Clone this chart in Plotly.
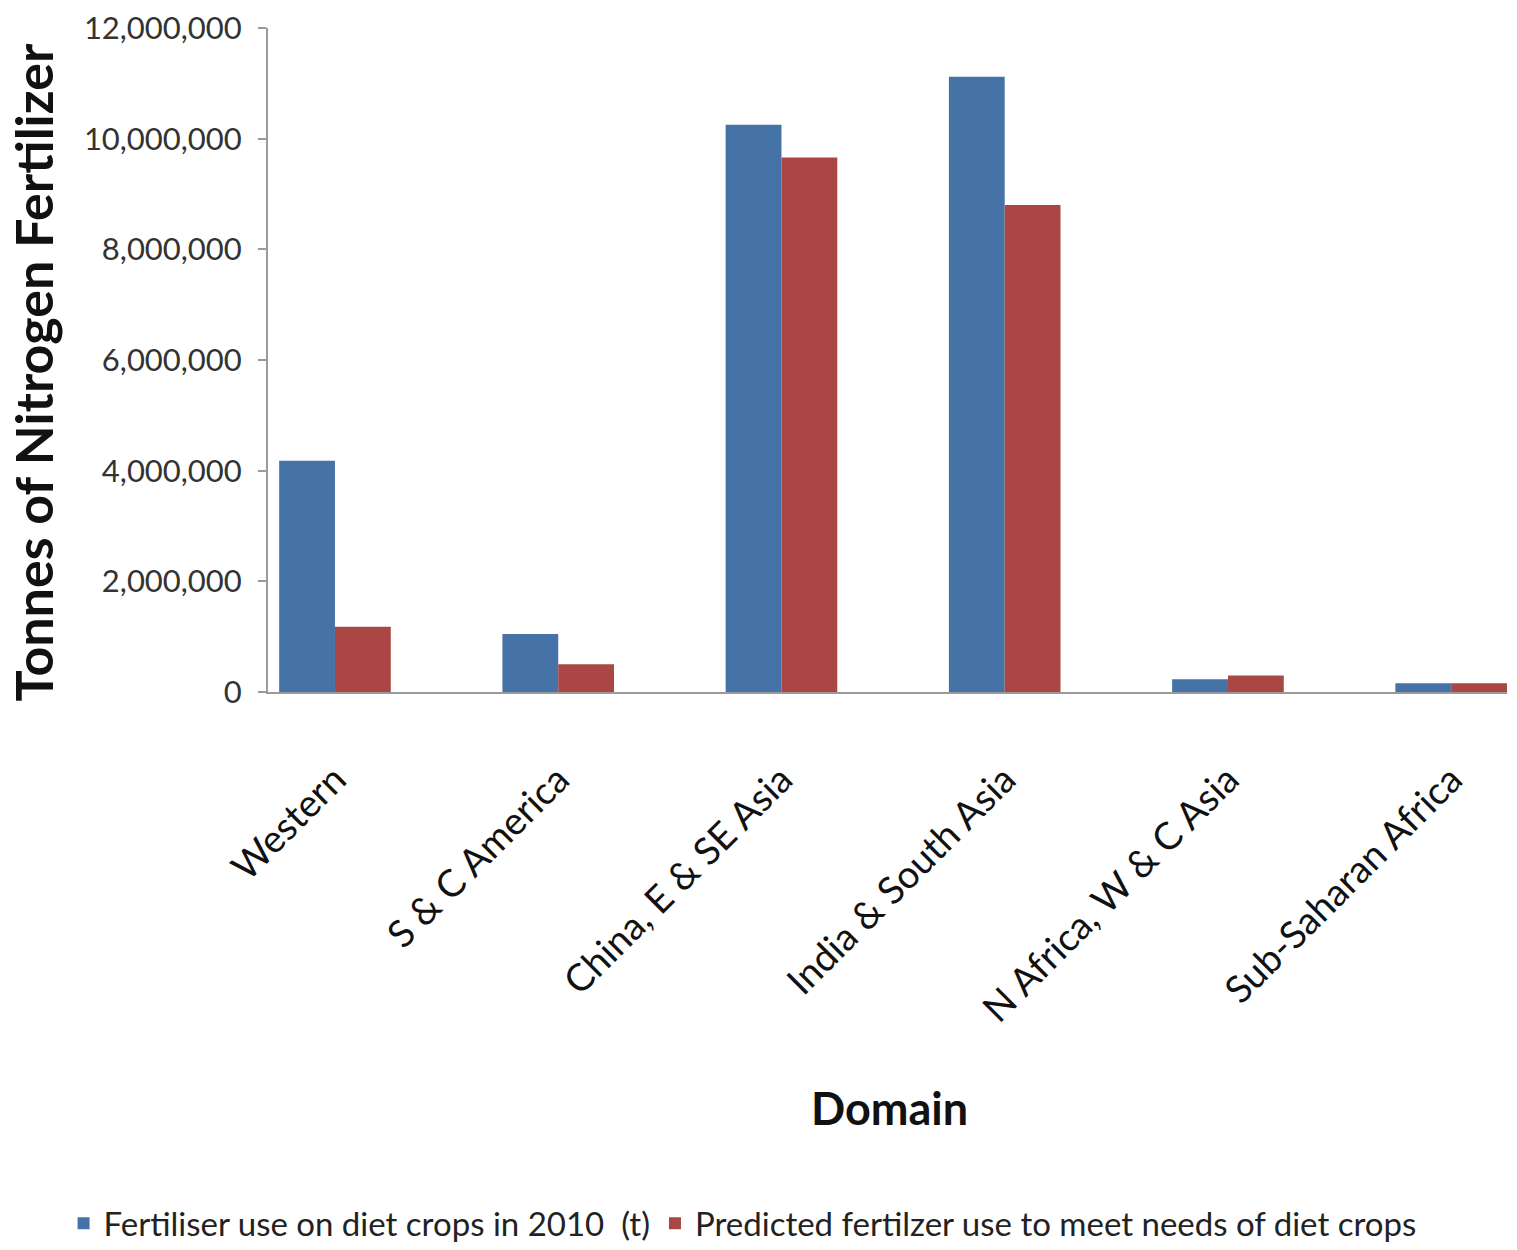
import plotly.graph_objects as go

categories = ["Western", "S & C America", "China, E & SE Asia", "India & South Asia",
              "N Africa, W & C Asia", "Sub-Saharan Africa"]
use_2010 = [4180000, 1050000, 10250000, 11120000, 230000, 160000]
predicted = [1180000, 500000, 9660000, 8800000, 300000, 160000]
series_names = ["Fertiliser use on diet crops in 2010  (t)",
                "Predicted fertilzer use to meet needs of diet crops"]
y_ticks = [0, 2000000, 4000000, 6000000, 8000000, 10000000, 12000000]

FONT = "Lato"
fig = go.Figure()
fig.add_trace(go.Bar(x=list(range(len(categories))), y=use_2010, name=series_names[0],
                     marker=dict(color="#4572A7", line=dict(width=0))))
fig.add_trace(go.Bar(x=list(range(len(categories))), y=predicted, name=series_names[1],
                     marker=dict(color="#AA4643", line=dict(width=0))))

L, R, T, B = 268, 10, 28, 558
fig.update_layout(
    width=1517, height=1250,
    margin=dict(l=L, r=R, t=T, b=B, autoexpand=False),
    paper_bgcolor="white", plot_bgcolor="white",
    barmode="group", bargap=0.5, bargroupgap=0,
    font=dict(family=FONT, color="#222"),
    showlegend=True,
    legend=dict(orientation="h", x=-0.165, xanchor="left", y=-0.80, yanchor="middle",
                font=dict(size=33, color="#222", family=FONT), itemsizing="constant",
                traceorder="normal", itemwidth=30),
    xaxis=dict(
        tickmode="array", tickvals=list(range(len(categories))), ticktext=categories,
        range=[-0.3, 5.25], tickangle=-45, showgrid=False, zeroline=False,
        showline=True, linecolor="#9a9a9a", linewidth=2, ticks="",
        tickfont=dict(size=38, color="#111", family=FONT), ticklabelstandoff=48,
    ),
    yaxis=dict(
        range=[0, 12000000], tickvals=y_ticks, tickformat=",d",
        showgrid=False, zeroline=False, showline=True, linecolor="#9a9a9a", linewidth=2,
        ticks="outside", ticklen=8, tickcolor="#9a9a9a", tickwidth=2,
        tickfont=dict(size=31, color="#333", family=FONT), ticklabelstandoff=10,
    ),
    annotations=[
        dict(text="<b>Domain</b>", x=0.502, y=-0.627, xref="paper", yref="paper",
             showarrow=False, xanchor="center", yanchor="middle",
             font=dict(size=45, color="#111", family=FONT)),
        dict(text="<b>Tonnes of Nitrogen Fertilizer</b>", x=-0.19, y=0.482,
             xref="paper", yref="paper", textangle=-90, showarrow=False,
             xanchor="center", yanchor="middle",
             font=dict(size=52, color="#111", family=FONT)),
    ],
)
fig.write_html("out.html")
